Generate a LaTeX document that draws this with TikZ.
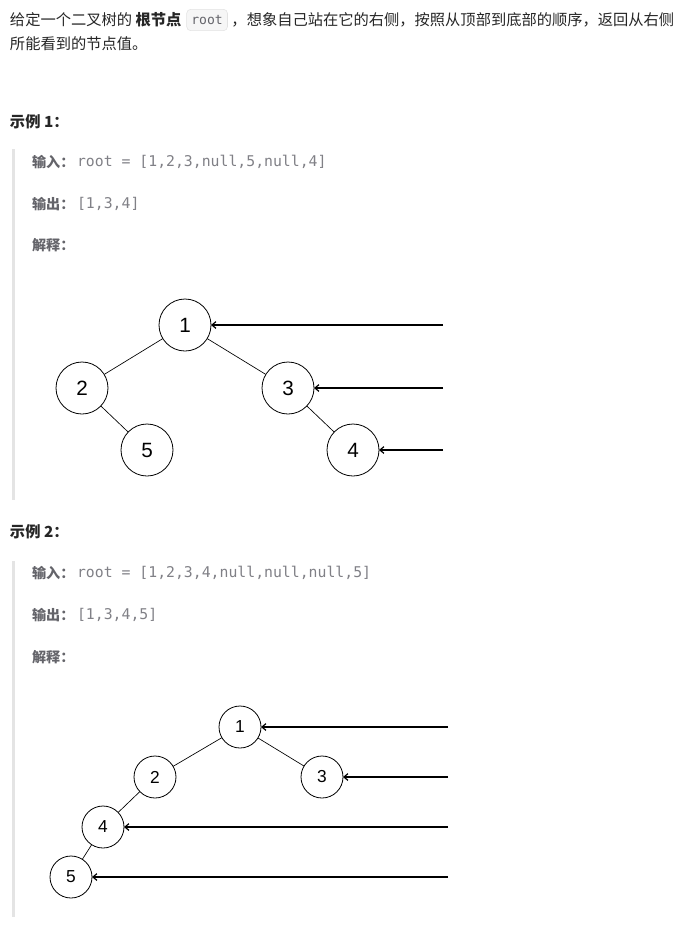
\documentclass[tikz,border=0pt]{standalone}
\usepackage{fontspec}
\setmainfont{Noto Sans CJK SC}
\setmonofont{DejaVu Sans Mono}
\newfontfamily\digitfont{Liberation Sans}
\usetikzlibrary{arrows.meta,positioning}
\definecolor{bodytext}{RGB}{38,38,38}
\definecolor{labelgray}{RGB}{100,100,106}
\definecolor{codegray}{RGB}{128,128,134}
\definecolor{quotebar}{RGB}{228,228,228}
\definecolor{codefill}{RGB}{246,246,246}
\definecolor{codeline}{RGB}{226,226,226}

\begin{document}
\begin{tikzpicture}[
    x=0.75pt, y=-0.75pt,
    every node/.style={inner sep=0pt, outer sep=0pt},
    para/.style={anchor=west, font=\fontsize{11.45}{13}\selectfont, text=bodytext},
    heading/.style={anchor=west, font=\fontsize{11.45}{13}\selectfont\bfseries, text=bodytext},
    field/.style={anchor=west, font=\fontsize{10.6}{12}\selectfont\bfseries, text=labelgray},
    code/.style={font=\fontsize{11.1}{12}\selectfont\ttfamily, text=codegray},
    inlinecode/.style={draw=codeline, fill=codefill, rounded corners=3pt, inner xsep=3.5pt, inner ysep=4.5pt, font=\fontsize{9.8}{11}\selectfont\ttfamily, text=labelgray},
    vertex/.style={draw, circle, minimum size=39pt, line width=0.6pt, font=\digitfont\fontsize{15.5}{16}\selectfont},
    smallvertex/.style={draw, circle, minimum size=31.5pt, line width=0.6pt, font=\digitfont\fontsize{13}{13}\selectfont},
    link/.style={line width=0.5pt},
    sight/.style={line width=0.9pt, -{Straight Barb[length=3pt,width=5pt]}}
]
\useasboundingbox (0,0) rectangle (682,929);

% problem statement
\node[para] (introa) at (10,20) {给定一个二叉树的 \textbf{根节点}};
\node[inlinecode, right=4pt of introa] (rootcode) {root};
\node[para, right=3pt of rootcode] (introb) {，想象自己站在它的右侧，按照从顶部到底部的顺序，返回从右侧};
\node[para] (introc) at (10,44) {所能看到的节点值。};

% example 1
\node[heading] (headA) at (10,122) {示例 1：};
\fill[quotebar] (12,149) rectangle (15,500);
\node[field] (inA) at (32,162) {输入：};
\node[code, right=2pt of inA] (inAval) {root = [1,2,3,null,5,null,4]};
\node[field] (outA) at (32,204) {输出：};
\node[code, right=2pt of outA] (outAval) {[1,3,4]};
\node[field] (whyA) at (32,245) {解释：};

\node[vertex] (a1) at (185,325) {1};
\node[vertex] (a2) at (82,388) {2};
\node[vertex] (a3) at (288,388) {3};
\node[vertex] (a5) at (147,450) {5};
\node[vertex] (a4) at (353,450) {4};
\draw[link] (a1) -- (a2);
\draw[link] (a1) -- (a3);
\draw[link] (a2) -- (a5);
\draw[link] (a3) -- (a4);
\coordinate (eyeA1) at (443,325);
\coordinate (eyeA2) at (443,388);
\coordinate (eyeA3) at (443,450);
\draw[sight] (eyeA1) -- (a1);
\draw[sight] (eyeA2) -- (a3);
\draw[sight] (eyeA3) -- (a4);

% example 2
\node[heading] (headB) at (10,532) {示例 2：};
\fill[quotebar] (12,561) rectangle (15,917);
\node[field] (inB) at (32,573) {输入：};
\node[code, right=2pt of inB] (inBval) {root = [1,2,3,4,null,null,null,5]};
\node[field] (outB) at (32,615) {输出：};
\node[code, right=2pt of outB] (outBval) {[1,3,4,5]};
\node[field] (whyB) at (32,657) {解释：};

\node[smallvertex] (b1) at (240,727) {1};
\node[smallvertex] (b2) at (155,777) {2};
\node[smallvertex] (b3) at (322,777) {3};
\node[smallvertex] (b4) at (103,827) {4};
\node[smallvertex] (b5) at (71,877) {5};
\draw[link] (b1) -- (b2);
\draw[link] (b1) -- (b3);
\draw[link] (b2) -- (b4);
\draw[link] (b4) -- (b5);
\coordinate (eyeB1) at (448,727);
\coordinate (eyeB2) at (448,777);
\coordinate (eyeB3) at (448,827);
\coordinate (eyeB4) at (448,877);
\draw[sight] (eyeB1) -- (b1);
\draw[sight] (eyeB2) -- (b3);
\draw[sight] (eyeB3) -- (b4);
\draw[sight] (eyeB4) -- (b5);
\end{tikzpicture}
\end{document}
